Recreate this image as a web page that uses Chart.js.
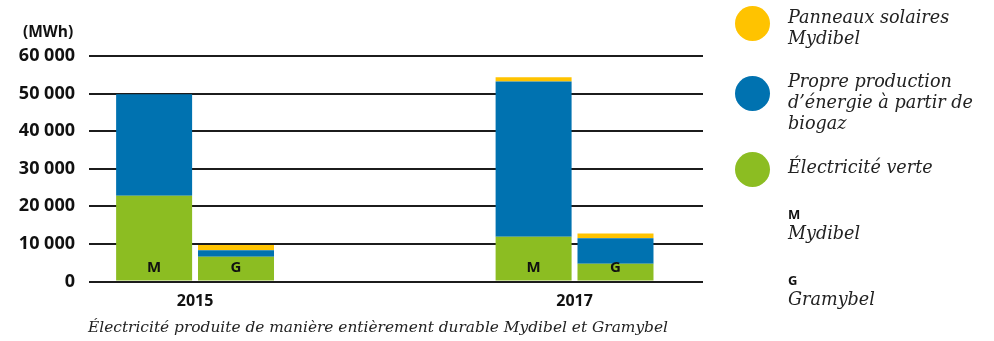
<!DOCTYPE html>
<html lang="fr">
<head>
<meta charset="utf-8">
<script src="https://cdn.jsdelivr.net/npm/chart.js@4/dist/chart.umd.min.js"></script>
<style>
    html, body { margin: 0; padding: 0; background: #fff; }
    #wrap { position: relative; width: 994px; height: 341px; overflow: hidden; }
    #wrap canvas { position: absolute; left: 0; top: 0; }
    .sans { font-family: "Open Sans", sans-serif; font-weight: 700; color: #111; }
    .serif { font-family: "DejaVu Serif", serif; font-style: italic; color: #222; }
    #unit { position: absolute; left: 23px; top: 20px; font-size: 15.5px; }
    #caption { position: absolute; left: 88px; top: 318px; font-size: 15.4px; line-height: 18px; white-space: nowrap; }
    .dot { position: absolute; left: 735px; width: 35px; height: 35px; border-radius: 50%; }
    .lg { position: absolute; left: 788px; font-size: 17.6px; line-height: 21px; white-space: nowrap; }
    .lg b { font-family: "Open Sans", sans-serif; font-style: normal; font-size: 13px; font-weight: 700; color: #111; display: block; line-height: 17px; }
</style>
</head>
<body>
<div id="wrap">
    <canvas id="chart" width="994" height="341"></canvas>
    <div id="unit" class="sans">(MWh)</div>
    <div id="legend"></div>
    <div id="caption" class="serif">Électricité produite de manière entièrement durable Mydibel et Gramybel</div>
</div>
<script>
// categories / tick labels
const years = [2015, 2017];
const yTicks = [0, 10000, 20000, 30000, 40000, 50000, 60000];

// Mydibel (M)
const mGreen  = [22800, 11900];
const mBiogas = [27000, 41300];
const mSolar  = [0, 1150];

// Gramybel (G)
const gGreen  = [6600, 4700];
const gBiogas = [1700, 6800];
const gSolar  = [1400, 1300];

const COLORS = {
    solar: '#ffc300',
    biogas: '#0072b0',
    green: '#8cbd22'
};

const legendItems = [
    { color: COLORS.solar, lines: ['Panneaux solaires', 'Mydibel'], top: 7 },
    { color: COLORS.biogas, lines: ['Propre production', 'd\u2019énergie à partir de', 'biogaz'], top: 71 },
    { color: COLORS.green, lines: ['Électricité verte'], top: 157 }
];
const stackNotes = [
    { letter: 'M', name: 'Mydibel', top: 206 },
    { letter: 'G', name: 'Gramybel', top: 272 }
];

// legend built as html, the chart has its own legend turned off
const legendBox = document.getElementById('legend');
legendItems.forEach((it, i) => {
    const dot = document.createElement('div');
    dot.className = 'dot';
    dot.style.background = it.color;
    dot.style.top = [6, 76, 152][i] + 'px';
    legendBox.appendChild(dot);

    const txt = document.createElement('div');
    txt.className = 'lg serif';
    txt.style.top = it.top + 'px';
    txt.innerHTML = it.lines.join('<br>');
    legendBox.appendChild(txt);
});
stackNotes.forEach(n => {
    const txt = document.createElement('div');
    txt.className = 'lg serif';
    txt.style.top = n.top + 'px';
    txt.innerHTML = `<b>${n.letter}</b>${n.name}`;
    legendBox.appendChild(txt);
});

const toPoints = arr => arr.map((v, i) => ({ x: years[i], y: v }));
const fmt = v => String(v).replace(/\B(?=(\d{3})+(?!\d))/g, ' ');

const datasets = [
    { label: 'Électricité verte', stack: 'M', data: toPoints(mGreen), backgroundColor: COLORS.green },
    { label: 'Biogaz', stack: 'M', data: toPoints(mBiogas), backgroundColor: COLORS.biogas },
    { label: 'Panneaux solaires', stack: 'M', data: toPoints(mSolar), backgroundColor: COLORS.solar },
    { label: 'Électricité verte', stack: 'G', data: toPoints(gGreen), backgroundColor: COLORS.green },
    { label: 'Biogaz', stack: 'G', data: toPoints(gBiogas), backgroundColor: COLORS.biogas },
    { label: 'Panneaux solaires', stack: 'G', data: toPoints(gSolar), backgroundColor: COLORS.solar }
];

// writes M / G at the foot of each stack
const stackLetters = {
    id: 'stackLetters',
    afterDatasetsDraw(chart) {
        const ctx = chart.ctx;
        ctx.save();
        ctx.font = '700 15px "Open Sans", sans-serif';
        ctx.fillStyle = '#111';
        ctx.textAlign = 'center';
        ctx.textBaseline = 'middle';
        [0, 3].forEach(di => {
            const meta = chart.getDatasetMeta(di);
            meta.data.forEach(bar => {
                ctx.fillText(datasets[di].stack, bar.x, bar.base - 13);
            });
        });
        ctx.restore();
    }
};

new Chart(document.getElementById('chart'), {
    type: 'bar',
    data: { datasets: datasets },
    plugins: [stackLetters],
    options: {
        responsive: false,
        animation: false,
        events: [],
        categoryPercentage: 0.4316,
        barPercentage: 0.928,
        layout: { padding: { top: 56, right: 291, bottom: 0, left: 0 } },
        plugins: {
            legend: { display: false },
            tooltip: { enabled: false }
        },
        scales: {
            x: {
                type: 'linear',
                offset: false,
                min: 2014.441,
                max: 2017.677,
                afterBuildTicks: s => { s.ticks = years.map(v => ({ value: v })); },
                afterFit: s => { s.height = 59.5; },
                grid: { display: false, drawTicks: false, offset: false },
                border: { display: false },
                ticks: {
                    padding: 10,
                    color: '#111',
                    font: { family: 'Open Sans', weight: '700', size: 16 },
                    callback: v => String(v)
                }
            },
            y: {
                stacked: true,
                min: 0,
                max: 60000,
                z: 1,
                afterBuildTicks: s => { s.ticks = yTicks.map(v => ({ value: v })); },
                afterFit: s => { s.width = 89; },
                grid: { color: '#1c1c1c', lineWidth: 2, drawTicks: false },
                border: { display: false },
                ticks: {
                    padding: 14,
                    color: '#111',
                    font: { family: 'Open Sans', weight: '700', size: 18 },
                    callback: v => fmt(v)
                }
            }
        }
    }
});
</script>
</body>
</html>
